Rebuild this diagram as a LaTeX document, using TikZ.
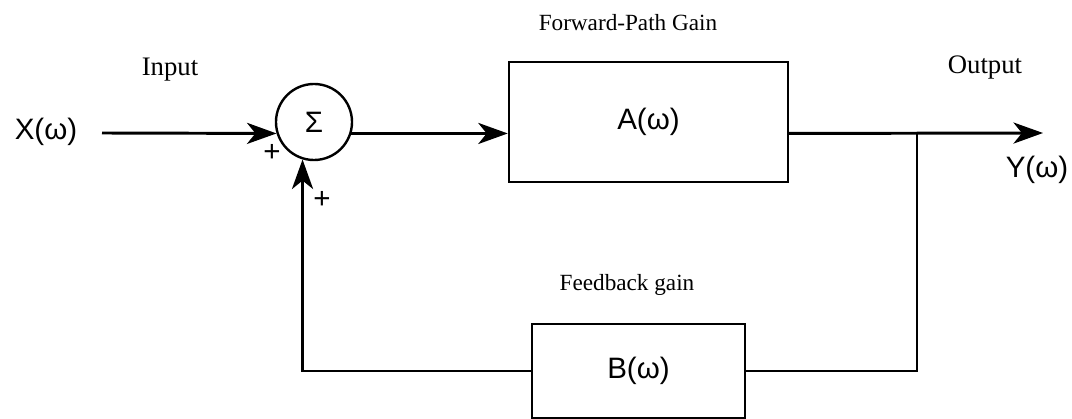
\documentclass[tikz,border=0pt]{standalone}
\usepackage{fontspec}
\setmainfont{Liberation Serif}
\setsansfont{Liberation Sans}
\usetikzlibrary{shapes}
\usetikzlibrary{arrows.meta}
\usetikzlibrary{positioning}

\begin{document}
\begin{tikzpicture}[x=0.025cm, y=-0.025cm]
		\tikzset{block/.style = {shape=rectangle, draw, line width=1.7pt,
				inner sep = 0pt, font=\sffamily\fontsize{21}{25}\selectfont}}
		\tikzset{summer/.style = {shape=circle, draw, line width=1.7pt,
				minimum size=1.9cm, inner sep = 0pt,
				font=\sffamily\fontsize{21}{25}\selectfont}}
		\tikzset{wire/.style = {line width=2.1pt}}
		\tikzset{edge/.style = {->, > = {Stealth[length=21pt, width=15pt, inset=6pt]}, line width=2.1pt}}
		\tikzset{sig/.style = {font=\sffamily\fontsize{21}{25}\selectfont}}
		\tikzset{tag/.style = {font=\fontsize{19}{23}\selectfont}}
		\tikzset{gain/.style = {font=\fontsize{16.5}{20}\selectfont}}
		\tikzset{sign/.style = {font=\sffamily\fontsize{21}{25}\selectfont}}

		\useasboundingbox (0,0) rectangle (1072,419);

		% blocks
		\node[summer] (sum) at (314,122) {Σ};
		\node[block, minimum width=6.975cm, minimum height=3cm] (fwd) at (648.5,122) {A(ω)};
		\node[block, minimum width=5.325cm, minimum height=2.35cm] (fb) at (638.5,371) {B(ω)};

		\coordinate (xin) at (102,133);
		\coordinate (tap) at (917,133);
		\coordinate (yout) at (1043,133);

		% labels
		\node[sig] (x) at (46,132) {X(ω)};
		\node[sig] (y) at (1037,170) {Y(ω)};
		\node[tag] (inp) at (170,70) {Input};
		\node[tag] (outp) at (985,68) {Output};
		\node[gain] (fwdlab) at (628,23) {Forward-Path Gain};
		\node[gain] (fblab) at (627,285) {Feedback gain};
		\node[sign] (p1) at (272,153) {+};
		\node[sign] (p2) at (322,200) {+};

		%edges
		\draw[edge] (xin) -- (sum.197);
		\draw[edge] (sum.-17) -- (sum.-17 -| fwd.west);
		\draw[edge] (sum.-17 -| fwd.east) -- (yout);
		\draw[wire] (tap) |- (fb.east);
		\draw[edge] (fb.west) -| (sum.-107);

\end{tikzpicture}
\end{document}
